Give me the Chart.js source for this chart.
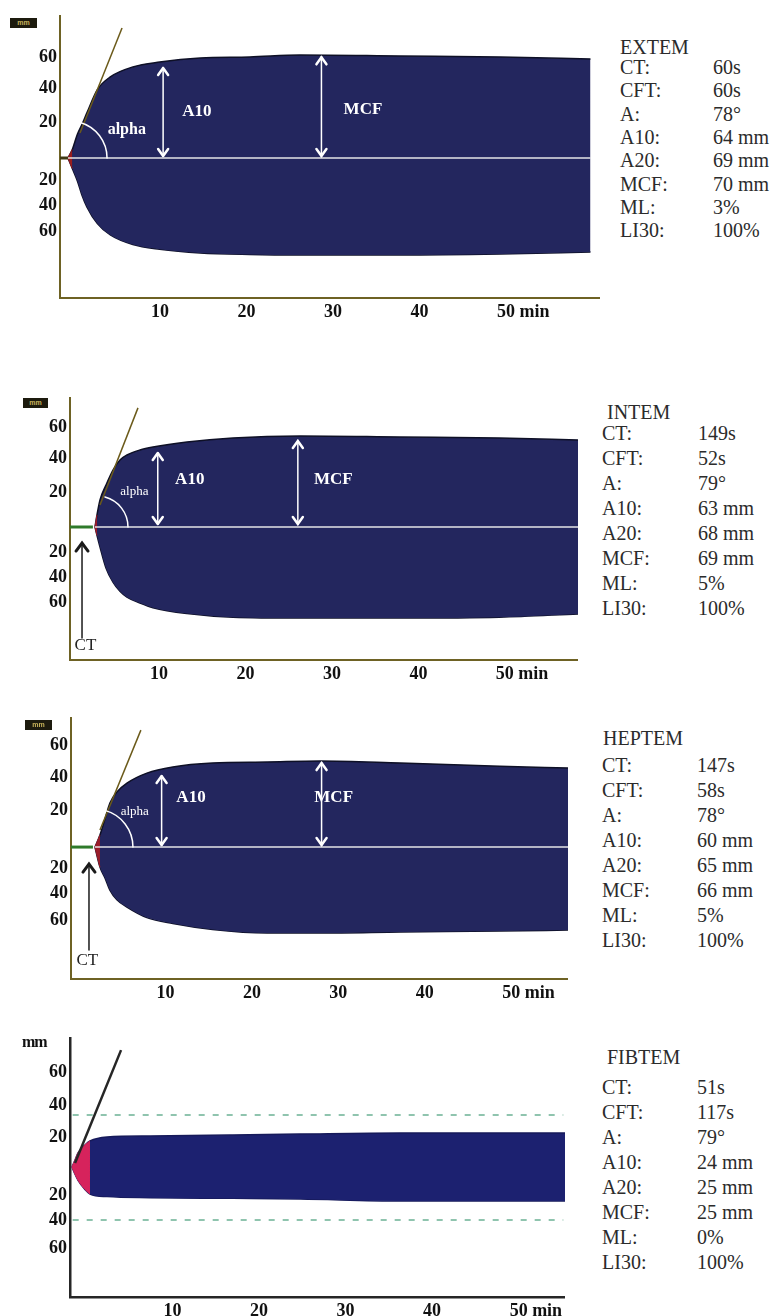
<!DOCTYPE html>
<html>
<head>
<meta charset="utf-8">
<script src="https://cdn.jsdelivr.net/npm/chart.js@4.4.0/dist/chart.umd.min.js"></script>
<style>
    body { margin: 0; background: #fff; }
    #page { position: relative; width: 773px; height: 1316px; overflow: hidden; }
    canvas { position: absolute; left: 0; }
    .mm { position: absolute; background: #1d1b0e; color: #c9b45c; font: bold 7px Arial, sans-serif; text-align: center; line-height: 10px; height: 10px; }
    .txt { position: absolute; font-family: "Liberation Serif", serif; font-size: 20px; color: #2b2b2b; white-space: nowrap; line-height: 24px; }
</style>
</head>
<body>
<div id="page">
    <canvas id="extem"></canvas>
    <canvas id="intem"></canvas>
    <canvas id="heptem"></canvas>
    <canvas id="fibtem"></canvas>
    <div class="mm" style="left:10px; top:18px; width:27px;">mm</div>
    <div class="mm" style="left:23px; top:398px; width:25px;">mm</div>
    <div class="mm" style="left:25px; top:720px; width:27px;">mm</div>
    <div class="txt" style="left:22px; top:1033px; font: bold 16px 'Liberation Serif'; color:#111; letter-spacing:-1px;">mm</div>
</div>
<script>
// axis ticks
const xTickValues = [10, 20, 30, 40, 50];
const xTickLabels = ['10', '20', '30', '40', '50 min'];
const yTickLabels = ['60', '40', '20', '20', '40', '60'];
const resultNames = ['CT:', 'CFT:', 'A:', 'A10:', 'A20:', 'MCF:', 'ML:', 'LI30:'];

// EXTEM
const extemTime  = [0.4, 0.9, 1.5, 2.0, 2.6, 3.8, 5.3, 7.9, 11, 15.7, 21.4, 27.2, 38.8, 50.4, 60.8];
const extemUpper = [0, 5, 14.3, 19.8, 27, 40.7, 48.3, 54.2, 57.1, 59.5, 60.1, 61.3, 60.7, 60.1, 58.9];
const extemLower = [0, -6.2, -13.8, -21.8, -29.2, -39, -45.8, -51.5, -54.3, -56.5, -57.4, -57.7, -57.7, -57.1, -56];
const extemYTicks = [-43.5, -28, -13.1, 21.4, 41.7, 60];
const extemPreCT = [-0.52, 0.4];
const extemBase = [0.4, 60.8];
const extemTangentT = [1.79, 6.65];
const extemTangentU = [14.9, 77.4];
const extemArrows = [[11.4, 54.2, 0.6], [29.7, 60.5, 0.6]];
const extemNotes = [['A10', 15.3, 27.4], ['MCF', 34.5, 28.6]];
const extemAlpha = [7.2, 16.7];
const extemArc = [0.64, 0];
const extemResults = ['60s', '60s', '78°', '64 mm', '69 mm', '70 mm', '3%', '100%'];

// INTEM
const intemTime  = [3.64, 3.87, 4.22, 4.91, 5.72, 6.53, 7.34, 8.84, 10.35, 14.28, 19.6, 27.4, 38.9, 50.4, 59.5];
const intemUpper = [0, 7.2, 16.2, 25.1, 34.1, 40.1, 43.1, 46.1, 47.9, 50.9, 53.3, 54.5, 53.9, 53.3, 52.1];
const intemLower = [0, -5, -12, -24.5, -33, -38.5, -42, -45.5, -48.3, -51.8, -54, -54.5, -54.5, -54, -52];
const intemYTicks = [-44.9, -29.9, -15, 21, 41.3, 59.9];
const intemPreCT = [0.75, 3.4];
const intemBase = [3.64, 59.5];
const intemTangentT = [4.22, 8.61];
const intemTangentU = [13.2, 71.3];
const intemArrows = [[10.9, 44.9, 1.2], [27.1, 52.1, 1.2]];
const intemNotes = [['A10', 14.6, 28.1], ['MCF', 31.2, 28.1]];
const intemAlpha = [8.2, 21];
const intemArc = [3.87, 0];
const intemCT = [2.14, -9, -66.5, 2.54, -70.7];
const intemResults = ['149s', '52s', '79°', '63 mm', '68 mm', '69 mm', '5%', '100%'];

// HEPTEM
const heptemTime  = [2.89, 3.47, 4.05, 4.62, 5.43, 6.59, 8.9, 11.9, 16.5, 22.8, 28.9, 38.2, 49.7, 57.6];
const heptemUpper = [0, 7.1, 16.5, 25.9, 32.4, 37.6, 43.5, 47.1, 49.4, 50, 50.6, 49.4, 47.6, 46.5];
const heptemLower = [0, -11.8, -18.2, -25.3, -31, -35.3, -41.5, -45, -48.5, -50.6, -50.6, -50, -49.4, -48.8];
const heptemYTicks = [-42.9, -27.1, -12.4, 21.8, 41.2, 60];
const heptemPreCT = [0.12, 2.66];
const heptemBase = [2.89, 57.6];
const heptemTangentT = [3.47, 8.2];
const heptemTangentU = [10, 68.8];
const heptemArrows = [[10.6, 42.4, 0.6], [29.1, 50, 0.6]];
const heptemNotes = [['A10', 14.0, 28.8], ['MCF', 30.5, 28.8]];
const heptemAlpha = [7.5, 20.6];
const heptemArc = [2.89, 0];
const heptemCT = [2.2, -9.4, -60.6, 2.0, -66.5];
const heptemResults = ['147s', '58s', '78°', '60 mm', '65 mm', '66 mm', '5%', '100%'];

// FIBTEM
const fibtemTime  = [-0.58, -0.23, 0.12, 0.92, 1.5, 3.47, 8.44, 18, 25.8, 37.3, 56.4];
const fibtemUpper = [0, 4.4, 8.8, 13.8, 16.3, 18.8, 19.4, 20, 20.6, 21.3, 21.3];
const fibtemLower = [0, -4.5, -8.3, -14, -16.9, -18.5, -19.2, -19.6, -20, -21.3, -21.3];
const fibtemYTicks = [-50.6, -33.1, -17.5, 18.8, 38.8, 59.4];
const fibtemTangentT = [-0.23, 5.09];
const fibtemTangentU = [2.5, 73.1];
const fibtemRefT = [-0.5, 56.2];
const fibtemRefUpper = [32.5, 32.5];
const fibtemRefLower = [-33.1, -33.1];
const fibtemResults = ['51s', '117s', '79°', '24 mm', '25 mm', '25 mm', '0%', '100%'];

const serif = '"Liberation Serif", "Times New Roman", serif';

function whiteArrow(ctx, x, y1, y2) {
    ctx.strokeStyle = '#fff';
    ctx.lineWidth = 1.5;
    ctx.beginPath(); ctx.moveTo(x, y1); ctx.lineTo(x, y2); ctx.stroke();
    ctx.lineWidth = 2.5;
    ctx.lineCap = 'round';
    ctx.lineJoin = 'round';
    ctx.beginPath();
    ctx.moveTo(x - 5, y1 + 8); ctx.lineTo(x, y1 + 1); ctx.lineTo(x + 5, y1 + 8);
    ctx.moveTo(x - 5, y2 - 8); ctx.lineTo(x, y2 - 1); ctx.lineTo(x + 5, y2 - 8);
    ctx.stroke();
}

function marksPlugin(m) {
    return {
        id: 'rotemMarks',
        afterDatasetsDraw(chart) {
            const {ctx, scales: {x, y}} = chart;
            const px = t => x.getPixelForValue(t);
            const py = u => y.getPixelForValue(u);
            ctx.save();
            (m.arrows || []).forEach(a => whiteArrow(ctx, px(a[0]), py(a[1]), py(a[2])));
            if (m.arc) {
                ctx.strokeStyle = '#fff';
                ctx.lineWidth = 1.5;
                ctx.beginPath();
                ctx.arc(px(m.arc[0]), py(m.arc[1]), m.radius, -m.angle * Math.PI / 180, 0);
                ctx.stroke();
            }
            ctx.fillStyle = '#fff';
            ctx.textAlign = 'center';
            ctx.textBaseline = 'middle';
            ctx.font = 'bold 17px ' + serif;
            (m.notes || []).forEach(n => ctx.fillText(n[0], px(n[1]), py(n[2])));
            if (m.alpha) {
                ctx.font = m.alphaFont + ' ' + serif;
                ctx.fillText('alpha', px(m.alpha[0]), py(m.alpha[1]));
            }
            if (m.ct) {
                const cx = px(m.ct[0]), tip = py(m.ct[1]), tail = py(m.ct[2]);
                ctx.strokeStyle = '#1a1a1a';
                ctx.lineWidth = 1.5;
                ctx.beginPath(); ctx.moveTo(cx, tip + 2); ctx.lineTo(cx, tail); ctx.stroke();
                ctx.lineWidth = 3;
                ctx.lineJoin = 'miter';
                ctx.beginPath();
                ctx.moveTo(cx - 6, tip + 9); ctx.lineTo(cx, tip + 1); ctx.lineTo(cx + 6, tip + 9);
                ctx.stroke();
                ctx.fillStyle = '#222';
                ctx.font = '17px ' + serif;
                ctx.fillText('CT', px(m.ct[3]), py(m.ct[4]));
            }
            ctx.restore();
        }
    };
}

function buildPanel(id, L, d, marks) {
    const canvas = document.getElementById(id);
    canvas.width = L.right;
    canvas.height = L.bottom - L.top + 30;
    canvas.style.top = L.top + 'px';
    const pts = (ts, us) => ts.map((t, i) => ({x: t, y: us[i]}));
    const flat = ts => ts.map(t => ({x: t, y: 0}));

    const datasets = [
        {data: pts(d.time, d.upper), fill: 1, backgroundColor: L.fill, borderColor: L.edge, borderWidth: 1.5, cubicInterpolationMode: 'monotone', order: 6},
        {data: pts(d.time, d.lower), fill: false, borderColor: L.edge, borderWidth: 1.5, cubicInterpolationMode: 'monotone', order: 6},
        {data: pts(d.time.slice(0, d.red), d.upper.slice(0, d.red)), fill: 3, backgroundColor: L.red, borderColor: L.red, borderWidth: 1, cubicInterpolationMode: 'monotone', order: 5},
        {data: pts(d.time.slice(0, d.red), d.lower.slice(0, d.red)), fill: false, borderColor: L.red, borderWidth: 1, cubicInterpolationMode: 'monotone', order: 5},
        {data: pts(d.tanT, d.tanU), borderColor: L.tangent, borderWidth: L.tangentWidth, order: 1}
    ];
    if (d.base) datasets.push({data: flat(d.base), borderColor: 'rgba(238,238,238,0.95)', borderWidth: 1.5, order: 4});
    if (d.pre) datasets.push({data: flat(d.pre), borderColor: L.pre, borderWidth: 3, order: 3});
    if (d.refT) {
        datasets.push({data: pts(d.refT, d.refUpper), borderColor: '#8fc4ae', borderWidth: 2, borderDash: [6, 8], order: 7});
        datasets.push({data: pts(d.refT, d.refLower), borderColor: '#8fc4ae', borderWidth: 2, borderDash: [6, 8], order: 7});
    }

    const tickFont = {family: serif, size: 18, weight: 'bold'};
    new Chart(canvas.getContext('2d'), {
        type: 'line',
        data: {datasets},
        options: {
            responsive: false,
            animation: false,
            layout: {padding: 0},
            elements: {point: {radius: 0}},
            plugins: {legend: {display: false}, tooltip: {enabled: false}},
            scales: {
                x: {
                    type: 'linear',
                    min: L.xMin,
                    max: L.xMax,
                    afterBuildTicks: s => { s.ticks = xTickValues.map(v => ({value: v})); },
                    afterFit: s => { s.height = 30; s.paddingLeft = 0; s.paddingRight = 0; },
                    ticks: {callback: (v, i) => xTickLabels[i], align: 'start', autoSkip: false, maxRotation: 0, padding: 4, color: '#111', font: tickFont},
                    grid: {display: false, drawTicks: false},
                    border: {color: L.axis, width: L.axisWidth}
                },
                y: {
                    type: 'linear',
                    min: L.yMin,
                    max: L.yMax,
                    afterBuildTicks: s => { s.ticks = d.yTicks.map(v => ({value: v})); },
                    afterFit: s => { s.width = L.left; s.paddingTop = 0; s.paddingBottom = 0; },
                    ticks: {callback: (v, i) => yTickLabels[i], autoSkip: false, padding: 3, color: '#111', font: tickFont},
                    grid: {display: false, drawTicks: false},
                    border: {color: L.axis, width: L.axisWidth}
                }
            }
        },
        plugins: [marksPlugin(marks)]
    });
}

function addTable(title, results, T) {
    const page = document.getElementById('page');
    const put = (text, left, cy) => {
        const el = document.createElement('div');
        el.className = 'txt';
        el.textContent = text;
        el.style.left = left + 'px';
        el.style.top = (cy - 12) + 'px';
        page.appendChild(el);
    };
    put(title, T.titleLeft, T.titleY);
    resultNames.forEach((name, i) => {
        put(name, T.left, T.rowY + i * T.gap);
        put(results[i], T.valueLeft, T.rowY + i * T.gap);
    });
}

const goldAxis = '#6e6224';
const navy = '#23265e';

buildPanel('extem',
    {top: 15, bottom: 298, left: 60, right: 600, xMin: -0.52, xMax: 61.9, yMin: -83.3, yMax: 85.1,
     fill: navy, edge: '#0e1026', red: '#9a1d1d', tangent: '#6b5a1a', tangentWidth: 1.5, pre: '#3f3a14', axis: goldAxis, axisWidth: 2},
    {time: extemTime, upper: extemUpper, lower: extemLower, red: 2, yTicks: extemYTicks, pre: extemPreCT, base: extemBase, tanT: extemTangentT, tanU: extemTangentU},
    {arrows: extemArrows, notes: extemNotes, alpha: extemAlpha, alphaFont: 'bold 16px', arc: extemArc, radius: 37, angle: 74});

buildPanel('intem',
    {top: 397, bottom: 660, left: 70, right: 578, xMin: 0.75, xMax: 59.5, yMin: -79.6, yMax: 77.8,
     fill: navy, edge: '#0e1026', red: '#9a1d2a', tangent: '#6b5a1a', tangentWidth: 1.5, pre: '#2f7a2a', axis: goldAxis, axisWidth: 2},
    {time: intemTime, upper: intemUpper, lower: intemLower, red: 2, yTicks: intemYTicks, pre: intemPreCT, base: intemBase, tanT: intemTangentT, tanU: intemTangentU},
    {arrows: intemArrows, notes: intemNotes, alpha: intemAlpha, alphaFont: '13px', arc: intemArc, radius: 31, angle: 75, ct: intemCT});

buildPanel('heptem',
    {top: 717, bottom: 979, left: 71, right: 568, xMin: 0.12, xMax: 57.6, yMin: -77.6, yMax: 76.5,
     fill: navy, edge: '#0e1026', red: '#9a1d2a', tangent: '#6b5a1a', tangentWidth: 1.5, pre: '#2f7a2a', axis: goldAxis, axisWidth: 2},
    {time: heptemTime, upper: heptemUpper, lower: heptemLower, red: 2, yTicks: heptemYTicks, pre: heptemPreCT, base: heptemBase, tanT: heptemTangentT, tanU: heptemTangentU},
    {arrows: heptemArrows, notes: heptemNotes, alpha: heptemAlpha, alphaFont: '13px', arc: heptemArc, radius: 38, angle: 75, ct: heptemCT});

buildPanel('fibtem',
    {top: 1037, bottom: 1297, left: 70, right: 565, xMin: -0.81, xMax: 56.4, yMin: -81.3, yMax: 81.3,
     fill: '#1c2170', edge: '#161a5a', red: '#d6235c', tangent: '#262626', tangentWidth: 2.5, axis: '#262626', axisWidth: 2.5},
    {time: fibtemTime, upper: fibtemUpper, lower: fibtemLower, red: 5, yTicks: fibtemYTicks, tanT: fibtemTangentT, tanU: fibtemTangentU,
     refT: fibtemRefT, refUpper: fibtemRefUpper, refLower: fibtemRefLower},
    {});

addTable('EXTEM', extemResults, {titleLeft: 620, titleY: 47, left: 620, valueLeft: 713, rowY: 67, gap: 23.3});
addTable('INTEM', intemResults, {titleLeft: 607, titleY: 412, left: 602, valueLeft: 698, rowY: 433, gap: 25});
addTable('HEPTEM', heptemResults, {titleLeft: 603, titleY: 738, left: 602, valueLeft: 697, rowY: 765, gap: 25});
addTable('FIBTEM', fibtemResults, {titleLeft: 607, titleY: 1057, left: 602, valueLeft: 697, rowY: 1087, gap: 25});
</script>
</body>
</html>
